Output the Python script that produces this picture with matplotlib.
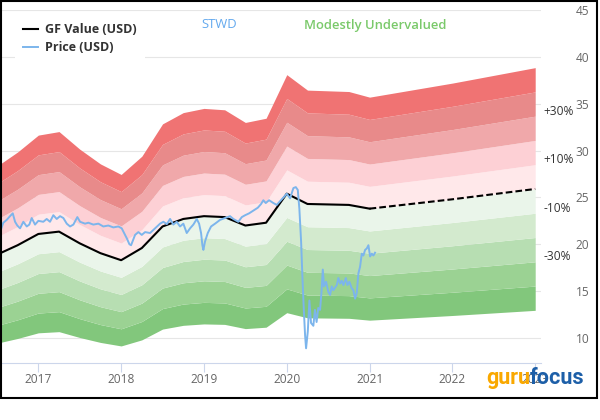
import matplotlib
matplotlib.use('Agg')
import matplotlib.pyplot as plt
from matplotlib import font_manager
from matplotlib.patches import Rectangle
import numpy as np

# GF Value (quarterly, last two points are the forecast)
gf_years = [2016.54, 2016.75, 2017.0, 2017.25, 2017.5, 2017.75, 2018.0, 2018.25, 2018.5,
            2018.75, 2019.0, 2019.25, 2019.5, 2019.75, 2020.0, 2020.25, 2020.5, 2020.75,
            2021.0, 2022.0, 2023.0]
gf_vals = [19.05, 19.9, 21.1, 21.35, 20.1, 19.05, 18.3, 19.6, 21.9,
           22.7, 23.0, 22.9, 22.0, 22.3, 25.4, 24.3, 24.25, 24.2,
           23.8, 24.8, 25.9]
gf_forecast_start = 2021.0

# price
price_years = [2016.537, 2016.577, 2016.618, 2016.658, 2016.691, 2016.719, 2016.746, 2016.779,
               2016.819, 2016.860, 2016.891, 2016.920, 2016.960, 2017.000, 2017.060, 2017.101,
               2017.141, 2017.181, 2017.222, 2017.262, 2017.302, 2017.343, 2017.383, 2017.423,
               2017.471, 2017.504, 2017.564, 2017.604, 2017.664, 2017.725, 2017.785, 2017.845,
               2017.906, 2017.966, 2018.007, 2018.035, 2018.070, 2018.100, 2018.120, 2018.168,
               2018.208, 2018.249, 2018.289, 2018.349, 2018.409, 2018.470, 2018.510, 2018.551,
               2018.591, 2018.630, 2018.671, 2018.711, 2018.751, 2018.792, 2018.832, 2018.872,
               2018.913, 2018.941, 2018.965, 2018.981, 2018.993, 2019.013, 2019.046, 2019.086,
               2019.134, 2019.194, 2019.255, 2019.315, 2019.355, 2019.415, 2019.457, 2019.497,
               2019.545, 2019.597, 2019.650, 2019.690, 2019.717, 2019.746, 2019.786, 2019.838,
               2019.879, 2019.919, 2019.971, 2020.000, 2020.040, 2020.080, 2020.109, 2020.133,
               2020.152, 2020.173, 2020.188, 2020.205, 2020.221, 2020.233, 2020.254, 2020.273,
               2020.293, 2020.321, 2020.340, 2020.360, 2020.380, 2020.402, 2020.420, 2020.435,
               2020.450, 2020.475, 2020.502, 2020.523, 2020.543, 2020.563, 2020.604, 2020.623,
               2020.644, 2020.664, 2020.684, 2020.713, 2020.732, 2020.756, 2020.785, 2020.804,
               2020.825, 2020.845, 2020.865, 2020.885, 2020.906, 2020.925, 2020.946, 2020.966,
               2020.986, 2021.006, 2021.027, 2021.046, 2021.066]
price_vals = [21.3, 22.3, 22.6, 23.0, 23.3, 22.4, 22.0, 21.7,
              22.4, 21.9, 22.1, 22.8, 22.1, 22.5, 22.4, 22.7,
              22.4, 23.1, 22.7, 23.0, 22.8, 22.2, 21.9, 22.1,
              22.9, 22.4, 22.2, 22.3, 22.1, 22.2, 21.9, 22.0,
              21.8, 21.9, 21.7, 21.2, 20.6, 20.0, 19.9, 21.0,
              21.3, 21.0, 21.3, 21.2, 21.7, 22.2, 22.4, 22.15,
              22.7, 22.1, 22.4, 21.9, 22.2, 21.2, 21.7, 22.1,
              22.7, 22.2, 21.2, 19.9, 19.4, 20.3, 21.2, 21.9,
              22.2, 22.6, 22.8, 23.0, 22.7, 22.4, 22.9, 23.1,
              23.3, 23.6, 23.9, 24.3, 24.7, 24.4, 24.7, 24.4,
              24.2, 24.6, 25.1, 25.4, 24.9, 26.0, 26.1, 25.8,
              23.8, 20.3, 16.7, 13.2, 10.3, 8.9, 10.7, 14.0,
              11.6, 11.3, 13.0, 11.7, 13.2, 13.0, 15.0, 17.3,
              15.5, 16.0, 14.9, 14.6, 15.5, 15.1, 15.65, 16.4,
              15.8, 16.1, 15.65, 16.4, 15.65, 16.0, 15.3, 15.1,
              14.2, 14.8, 16.9, 17.6, 19.0, 18.8, 19.4, 19.55,
              19.9, 18.7, 19.0, 18.8, 19.1]

band_factors = [0.5, 0.6, 0.7, 0.8, 0.9, 1.0, 1.1, 1.2, 1.3, 1.4, 1.5]
band_colors = ['#82c77c', '#9bd293', '#b7deb2', '#d3eace', '#eaf5ea',
               '#ffe8ea', '#fdd0d5', '#f0a8aa', '#e88a8a', '#f07373']
pct_labels = ['+30%', '+10%', '-10%', '-30%']
pct_factors = [1.3, 1.1, 0.9, 0.7]

year_ticks = [2017, 2018, 2019, 2020, 2021, 2022, 2023]
price_ticks = [10, 15, 20, 25, 30, 35, 40, 45]

plt.rcParams['font.family'] = ['Open Sans', 'DejaVu Sans']

W, H = 600, 420
fig = plt.figure(figsize=(6, 4.2), dpi=100)
ax = fig.add_axes([0, (H - 363) / H, 541 / W, 353 / H])

gf_x = np.array(gf_years)
gf_y = np.array(gf_vals)
for lo, hi, col in zip(band_factors[:-1], band_factors[1:], band_colors):
    ax.fill_between(gf_x, gf_y * lo, gf_y * hi, color=col, lw=0, zorder=1)

solid = gf_x <= gf_forecast_start
dashed = gf_x >= gf_forecast_start
ax.plot(gf_x[solid], gf_y[solid], color='black', lw=1.5, zorder=3, label='GF Value (USD)')
ax.plot(gf_x[dashed], gf_y[dashed], color='black', lw=1.5, dashes=(3.2, 1.5), zorder=3)
ax.plot(price_years, price_vals, color='#7cb5ec', lw=1.4, zorder=4, label='Price (USD)')

for lab, f in zip(pct_labels, pct_factors):
    ax.annotate(lab, xy=(1, gf_vals[-1] * f), xycoords=('axes fraction', 'data'),
                xytext=(1.5, 3.5), textcoords='offset points', ha='left', va='center',
                fontsize=8.6, color='#333333', annotation_clip=False)

ax.set_xlim(2016.537, 2023.07)
ax.set_ylim(7.33, 45)
ax.set_xticks(year_ticks)
ax.set_xticklabels([str(y) for y in year_ticks])
ax.set_yticks(price_ticks)
ax.yaxis.tick_right()
ax.grid(axis='y', color='#e6e6e6', lw=0.8)
ax.set_axisbelow(True)
for s in ['top', 'left', 'right']:
    ax.spines[s].set_visible(False)
ax.spines['bottom'].set_color('#ccd6eb')
ax.spines['bottom'].set_linewidth(0.8)
ax.tick_params(axis='x', length=6.5, width=0.8, color='#ccd6eb', labelcolor='#666666',
               labelsize=8.6, pad=1)
ax.tick_params(axis='y', length=0, labelcolor='#666666', labelsize=8.6, pad=25)
for t in ax.get_yticklabels():
    t.set_horizontalalignment('left')

leg = ax.legend(loc='upper left', bbox_to_anchor=(15 / W, 1 - 15 / H),
                bbox_transform=fig.transFigure, frameon=True, fancybox=False,
                facecolor='white', edgecolor='none', framealpha=1,
                prop={'weight': 'bold', 'size': 9}, handlelength=1.2,
                handletextpad=0.55, labelspacing=0.38, borderpad=0.65, borderaxespad=0)
for txt in leg.get_texts():
    txt.set_color('#333333')
leg.set_zorder(10)

fig.text(219 / W, 1 - 25 / H, 'STWD', color='#63a9ee', fontsize=9.4, ha='center', va='center')
fig.text(375 / W, 1 - 25 / H, 'Modestly Undervalued', color='#7ac96a', fontsize=9.4,
         fontweight='semibold', ha='center', va='center')

# gurufocus logo
names = {f.name for f in font_manager.fontManager.ttflist}
logo_font = 'Roboto' if 'Roboto' in names else 'DejaVu Sans'
logo_size = 15.5 if logo_font == 'Roboto' else 12.5
guru = fig.text(486 / W, (H - 384) / H, 'guru', color='#f9a800', fontsize=logo_size,
                fontweight='bold', family=logo_font, va='baseline', ha='left', zorder=10)
fig.canvas.draw()
gx1 = guru.get_window_extent().x1
fig.text(gx1 / W, (H - 384) / H, 'focus', color='#1d5fa8', fontsize=logo_size,
         fontweight='bold', family=logo_font, va='baseline', ha='left', zorder=10)

fig.add_artist(Rectangle((0.6 / W, (H - 398) / H), 596.5 / W, (397.5 - 0.6) / H,
                         transform=fig.transFigure, fill=False, edgecolor='black', lw=1.5))

fig.savefig('out.png', dpi=100)
